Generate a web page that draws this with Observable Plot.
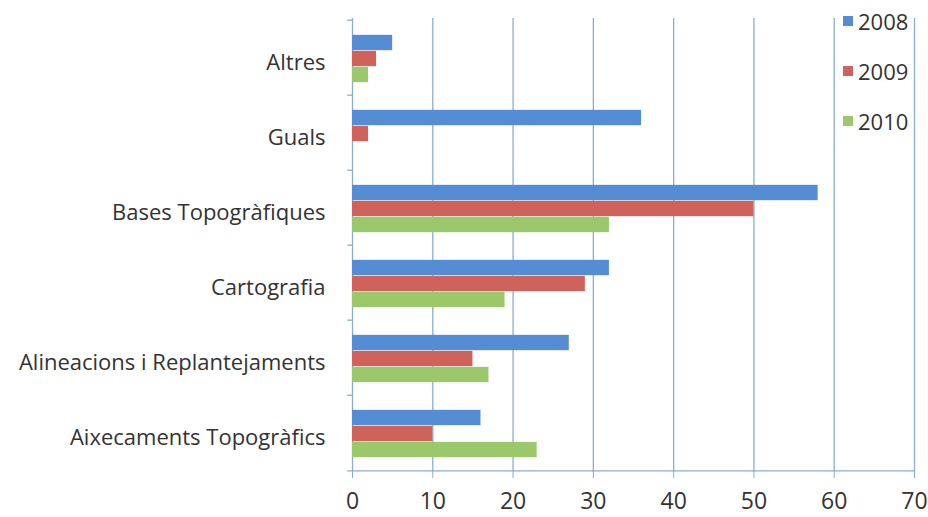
<!DOCTYPE html>
<html>
<head>
<meta charset="utf-8">
<script src="https://cdn.jsdelivr.net/npm/d3@7"></script>
<script src="https://cdn.jsdelivr.net/npm/@observablehq/plot@0.6"></script>
<style>
  body { margin: 0; background: #fff; }
  #wrap { position: relative; width: 928px; height: 517px; font-family: "Open Sans", sans-serif; color: #333; }
  #wrap svg [aria-label^="x-axis"] line,
  #wrap svg [aria-label^="x-axis"] path { stroke: #8aaecd; stroke-opacity: 1; }
  #wrap svg [aria-label^="x-axis"] text { font-size: 23px; }
  #legend { position: absolute; left: 843px; top: 6px; font-size: 22px; color: #333; }
  #legend .item { display: flex; align-items: center; height: 30px; margin-bottom: 20px; }
  #legend .sw { width: 10px; height: 10px; margin-right: 5px; }
</style>
</head>
<body>
<div id="wrap"></div>
<script>
const categories = ["Altres", "Guals", "Bases Topogràfiques", "Cartografia", "Alineacions i Replantejaments", "Aixecaments Topogràfics"];
const years = ["2008", "2009", "2010"];
const values2008 = [5, 36, 58, 32, 27, 16];
const values2009 = [3, 2, 50, 29, 15, 10];
const values2010 = [2, 0, 32, 19, 17, 23];
const xTicks = [0, 10, 20, 30, 40, 50, 60, 70];
const colors = ["#548dd4", "#d0625c", "#9bc86a"];

const series = [values2008, values2009, values2010];
const data = [];
years.forEach((yr, j) => categories.forEach((c, i) => data.push({category: c, year: yr, value: series[j][i]})));

const W = 928, H = 517, mT = 18, mB = 45, mL = 352, mR = 14;
const step = (H - mT - mB) / categories.length;
const barH = 16;
const inset = (step - barH) / 2;
const gridColor = "#8aaecd";

const barMarks = years.map((yr, j) => Plot.barX(data.filter(d => d.year === yr), {
  x: "value", y: "category", fill: colors[j],
  insetTop: inset, insetBottom: inset, dy: (j - 1) * barH + 1
}));

const chart = Plot.plot({
  width: W, height: H,
  marginTop: mT, marginBottom: mB, marginLeft: mL, marginRight: mR,
  style: {fontFamily: "Open Sans, sans-serif", fontSize: "20px", color: "#333", background: "#fff"},
  x: {domain: [0, 70], ticks: xTicks, tickSize: 6, tickPadding: 14, line: false, label: null},
  y: {domain: categories, padding: 0, label: null, axis: null},
  marks: [
    Plot.ruleX(xTicks.slice(1), {stroke: gridColor, strokeWidth: 1.3}),
    Plot.ruleX([0], {stroke: gridColor, strokeWidth: 1.3}),
    Plot.ruleY(categories, {y: d => d, x1: -0.6, x2: 0, dy: -step / 2, stroke: gridColor, strokeWidth: 1.3}),
    Plot.ruleY(categories.slice(-1), {y: d => d, x1: -0.6, x2: 70, dy: step / 2, stroke: gridColor, strokeWidth: 1.3}),
    Plot.text(categories, {y: d => d, x: 0, text: d => d, textAnchor: "end", dx: -27, dy: 5, fontSize: 22, fill: "#333"}),
    ...barMarks
  ]
});
document.getElementById("wrap").appendChild(chart);

const legend = document.createElement("div");
legend.id = "legend";
years.forEach((yr, j) => {
  const it = document.createElement("div");
  it.className = "item";
  const sw = document.createElement("div");
  sw.className = "sw"; sw.style.background = colors[j];
  const t = document.createElement("span");
  t.textContent = yr;
  it.appendChild(sw); it.appendChild(t);
  legend.appendChild(it);
});
document.getElementById("wrap").appendChild(legend);
</script>
</body>
</html>
